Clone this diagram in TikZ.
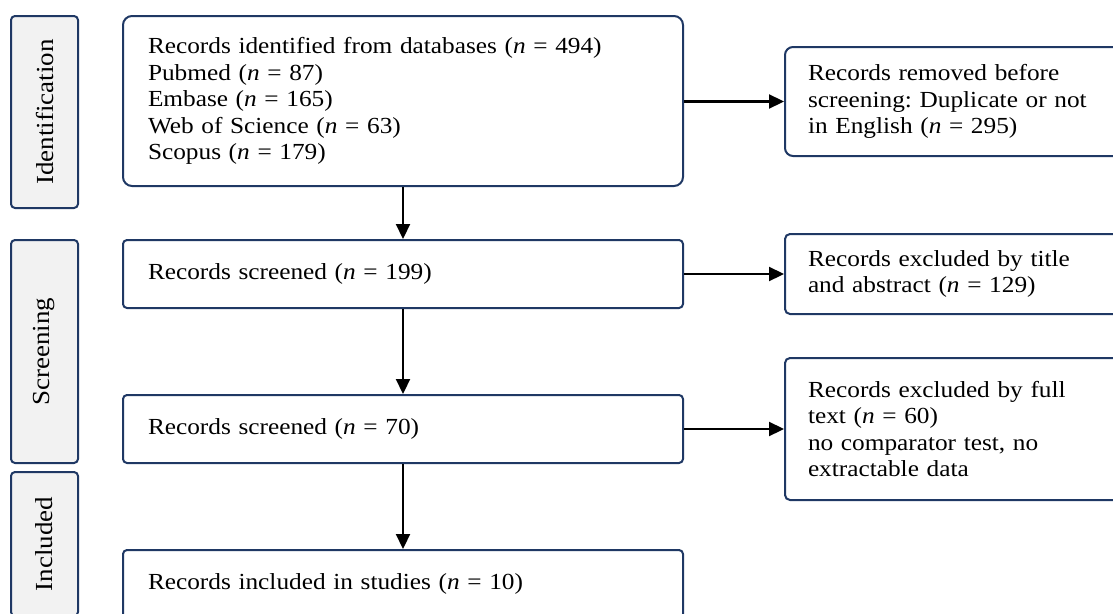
\documentclass[tikz,border=0pt]{standalone}
\usepackage{fontspec}
\setmainfont{Liberation Serif}[FakeStretch=1.1]
\usetikzlibrary{arrows.meta}
\definecolor{navy}{RGB}{31,56,100}
\definecolor{lab}{RGB}{242,242,242}
\begin{document}
\begin{tikzpicture}[x=1pt,y=-1pt,
  every node/.style={font=\fontsize{23}{26.5}\selectfont\frenchspacing},
  mainbox/.style={draw=navy,line width=2pt,rounded corners=4pt,fill=white,
    minimum width=560pt,text width=510pt,align=left,anchor=north west,inner sep=0pt},
  sidebox/.style={draw=navy,line width=2pt,rounded corners=5pt,fill=white,
    minimum width=340pt,text width=294pt,align=left,anchor=north west,inner sep=0pt},
  labbox/.style={draw=navy,line width=2pt,rounded corners=4pt,fill=lab,
    minimum width=67pt,anchor=north west,inner sep=0pt},
  labtext/.style={rotate=90,font=\fontsize{24.5}{30}\selectfont},
  arr/.style={line width=2.2pt,-{Triangle[length=15pt,width=14pt]}}]
\useasboundingbox (0,0) rectangle (1113,613);
\clip (0,0) rectangle (1113,613);
% stage labels
\node[labbox,minimum height=192pt] (lid) at (10,15) {};
\node[labtext] (tid) at (lid.center) {Identification};
\node[labbox,minimum height=223pt] (lsc) at (10,239) {};
\node[labtext] (tsc) at (lsc.center) {Screening};
\node[labbox,minimum height=144pt] (lin) at (10,471) {};
\node[labtext] (tin) at (lin.center) {Included};
% main boxes
\node[mainbox,minimum height=170pt,rounded corners=9pt] (b1) at (122,15)
  {Records identified from databases (\textit{n} = 494)\\
   Pubmed (\textit{n} = 87)\\
   Embase (\textit{n} = 165)\\
   Web of Science (\textit{n} = 63)\\
   Scopus (\textit{n} = 179)};
\node[mainbox,minimum height=68pt] (b2) at (122,239) {Records screened (\textit{n} = 199)};
\node[mainbox,minimum height=68pt] (b3) at (122,394) {Records screened (\textit{n} = 70)};
\node[mainbox,minimum height=68pt] (b4) at (122,549) {Records included in studies (\textit{n} = 10)};
% side boxes
\node[sidebox,minimum height=109pt,rounded corners=8pt] (s1) at (784,46)
  {Records removed before\\ screening: Duplicate or not\\ in English (\textit{n} = 295)};
\node[sidebox,minimum height=80pt] (s2) at (784,233)
  {Records excluded by title\\ and abstract (\textit{n} = 129)};
\node[sidebox,minimum height=142pt] (s3) at (784,357)
  {Records excluded by full\\ text (\textit{n} = 60)\\ no comparator test, no\\ extractable data};
% arrows
\draw[arr] (b1) -- (b2);
\draw[arr] (b2) -- (b3);
\draw[arr] (b3) -- (b4);
\draw[arr] (b1.east |- s1.west) -- (s1.west);
\draw[arr] (b2.east) -- (s2.west);
\draw[arr] (b3.east) -- (s3.west);
\end{tikzpicture}
\end{document}
